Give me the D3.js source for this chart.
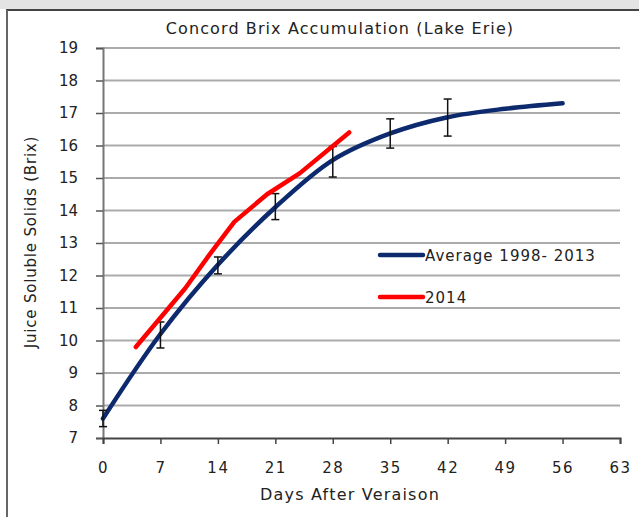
<!DOCTYPE html>
<head>
  <meta charset="utf-8">
  <title>Concord Brix Accumulation</title>
  <script src="https://cdn.jsdelivr.net/npm/d3@7/dist/d3.min.js"></script>
  <style>
    body { margin: 0; background: #fff; }
    text { font-family: "DejaVu Sans", sans-serif; fill: #222; }
  </style>
</head>
<body>
<script>
  var WIDTH = 639, HEIGHT = 517;

  // ---- data
  var avgDays  = [0, 7, 14, 21, 28, 35, 42, 49, 56];
  var avgBrix  = [7.6, 10.2, 12.33, 14.1, 15.55, 16.37, 16.87, 17.13, 17.3];
  var errDays  = [0, 7, 14, 21, 28, 35, 42];
  var errMid   = [7.6, 10.17, 12.31, 14.12, 15.5, 16.37, 16.86];
  var errHalf  = [0.25, 0.4, 0.26, 0.4, 0.47, 0.45, 0.57];
  var y14Days  = [4, 10, 13, 16, 20, 24, 30];
  var y14Brix  = [9.8, 11.6, 12.65, 13.65, 14.5, 15.15, 16.4];
  var xTicks   = [0, 7, 14, 21, 28, 35, 42, 49, 56, 63];
  var yTicks   = [7, 8, 9, 10, 11, 12, 13, 14, 15, 16, 17, 18, 19];
  var seriesNames = ["Average 1998- 2013", "2014"];

  var svg = d3.select("body").append("svg")
              .attr("width", WIDTH)
              .attr("height", HEIGHT);

  // frame
  svg.append("rect").attr("x", 0).attr("y", 0).attr("width", WIDTH).attr("height", 9).attr("fill", "#e4e4e4");
  svg.append("line").attr("x1", 6).attr("x2", WIDTH).attr("y1", 10).attr("y2", 10)
     .attr("stroke", "#444").attr("stroke-width", 2);
  svg.append("line").attr("x1", 7).attr("x2", 7).attr("y1", 10).attr("y2", HEIGHT)
     .attr("stroke", "#666").attr("stroke-width", 2);

  var x = d3.scaleLinear().domain([0, 63]).range([103, 620]);
  var y = d3.scaleLinear().domain([7, 19]).range([438, 48]);

  // gridlines
  svg.append("g").selectAll("line")
     .data(yTicks.slice(1))
     .enter().append("line")
     .attr("x1", x(0)).attr("x2", x(63))
     .attr("y1", function(d){ return y(d); })
     .attr("y2", function(d){ return y(d); })
     .attr("stroke", "#ababab").attr("stroke-width", 2);

  // y axis
  var yAxis = svg.append("g")
     .attr("transform", "translate(" + x(0) + ",0)")
     .call(d3.axisLeft(y).tickValues(yTicks).tickSize(7).tickPadding(18));
  yAxis.select(".domain").attr("stroke", "#777").attr("stroke-width", 2);
  yAxis.selectAll(".tick line").attr("stroke", "#555").attr("stroke-width", 1.5);
  yAxis.selectAll("text").style("font-size", "15px").attr("fill", "#222");

  // x axis
  var xAxis = svg.append("g")
     .attr("transform", "translate(0," + y(7) + ")")
     .call(d3.axisBottom(x).tickValues(xTicks).tickSize(6).tickPadding(18));
  xAxis.select(".domain").attr("stroke", "#444").attr("stroke-width", 2);
  xAxis.selectAll(".tick line").attr("stroke", "#444").attr("stroke-width", 1.5);
  xAxis.selectAll("text").style("font-size", "15px").style("letter-spacing", "1.5px").attr("fill", "#222");

  // lines
  var avgLine = d3.line()
     .x(function(d){ return x(d[0]); })
     .y(function(d){ return y(d[1]); })
     .curve(d3.curveCatmullRom);
  var redLine = d3.line()
     .x(function(d){ return x(d[0]); })
     .y(function(d){ return y(d[1]); });

  svg.append("path")
     .attr("d", avgLine(d3.zip(avgDays, avgBrix)))
     .attr("fill", "none").attr("stroke", "#0d2a6e").attr("stroke-width", 4.5)
     .attr("stroke-linecap", "round");

  // error bars
  var eb = svg.append("g").selectAll("g")
     .data(d3.range(errDays.length))
     .enter().append("g");
  eb.append("line")
     .attr("x1", function(i){ return x(errDays[i]); })
     .attr("x2", function(i){ return x(errDays[i]); })
     .attr("y1", function(i){ return y(errMid[i] - errHalf[i]); })
     .attr("y2", function(i){ return y(errMid[i] + errHalf[i]); })
     .attr("stroke", "#111").attr("stroke-width", 1.5);
  [-1, 1].forEach(function(s){
    eb.append("line")
       .attr("x1", function(i){ return x(errDays[i]) - 4; })
       .attr("x2", function(i){ return x(errDays[i]) + 4; })
       .attr("y1", function(i){ return y(errMid[i] + s * errHalf[i]); })
       .attr("y2", function(i){ return y(errMid[i] + s * errHalf[i]); })
       .attr("stroke", "#111").attr("stroke-width", 1.5);
  });

  svg.append("path")
     .attr("d", redLine(d3.zip(y14Days, y14Brix)))
     .attr("fill", "none").attr("stroke", "#ff0000").attr("stroke-width", 4.5)
     .attr("stroke-linecap", "round").attr("stroke-linejoin", "round");

  // legend
  var legend = svg.append("g").selectAll("g")
     .data(seriesNames)
     .enter().append("g")
     .attr("transform", function(d, i){ return "translate(380," + (255 + i * 42) + ")"; });
  legend.append("line")
     .attr("x1", 0).attr("x2", 43).attr("y1", 0).attr("y2", 0)
     .attr("stroke", function(d, i){ return i == 0 ? "#0d2a6e" : "#ff0000"; })
     .attr("stroke-width", 4.5).attr("stroke-linecap", "round");
  legend.append("text")
     .attr("x", 45).attr("y", 6)
     .style("font-size", "15px").style("letter-spacing", "1px")
     .text(function(d){ return d; });

  // titles
  svg.append("text")
     .attr("x", 340).attr("y", 34)
     .attr("text-anchor", "middle")
     .style("font-size", "16px").style("letter-spacing", "1.1px")
     .text("Concord Brix Accumulation (Lake Erie)");
  svg.append("text")
     .attr("x", 350).attr("y", 500)
     .attr("text-anchor", "middle")
     .style("font-size", "16px").style("letter-spacing", "1.2px")
     .text("Days After Veraison");
  svg.append("text")
     .attr("transform", "translate(36,242) rotate(-90)")
     .attr("text-anchor", "middle")
     .style("font-size", "15px").style("letter-spacing", "0.8px")
     .text("Juice Soluble Solids (Brix)");
</script>
</body>
